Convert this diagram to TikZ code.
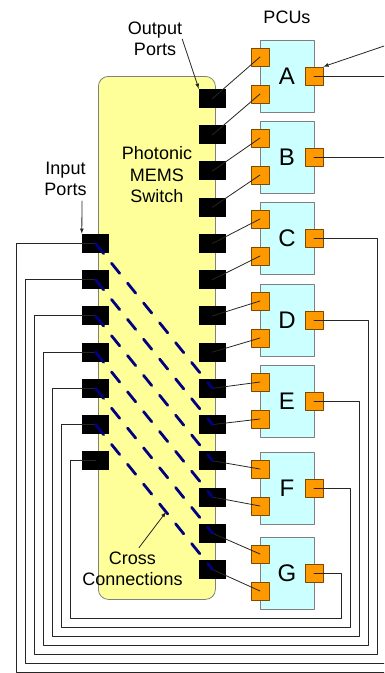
\documentclass[tikz,border=0pt]{standalone}
\usepackage{fontspec}
\setmainfont{Liberation Sans}
\definecolor{swfill}{HTML}{FFFF99}
\definecolor{pcufill}{HTML}{CCFFFF}
\definecolor{portfill}{HTML}{FF9900}
\definecolor{portedge}{HTML}{7A4A00}
\definecolor{boxedge}{HTML}{7F7F7F}
\definecolor{xconn}{HTML}{000080}
\tikzset{
  blk/.style={draw=none,fill=black,minimum width=27pt,minimum height=19pt,inner sep=0pt},
  opt/.style={draw=portedge,fill=portfill,line width=0.7pt,minimum size=18pt,inner sep=0pt},
  pcu/.style={draw=boxedge,fill=pcufill,line width=0.8pt,minimum width=54pt,minimum height=72pt,inner sep=0pt,font=\fontsize{24}{24}\selectfont},
  lbl/.style={align=center,inner sep=0pt,font=\fontsize{18}{21.5}\selectfont},
  wire/.style={line width=0.8pt,black!85},
  xwire/.style={xconn,line width=2.8pt,dash pattern=on 13pt off 12.5pt},
}
\begin{document}
\begin{tikzpicture}[x=1pt,y=-1pt,line cap=round,line join=round,>=latex]
  \useasboundingbox (0,0) rectangle (384,673);
  \clip (0,0) rectangle (384,673);
  \node[draw=boxedge,fill=swfill,rounded corners=10pt,line width=0.8pt,minimum width=117pt,minimum height=523pt,anchor=north west] (sw) at (98,76) {};
  \foreach \r in {1,...,14}
    \node[blk] (o\r) at (212.5,{98.5+36.23*(\r-1)}) {};
  \foreach \n in {1,...,7}
    \node[blk] (i\n) at (95.5,{98.5+36.23*(\n+3)}) {};
  \foreach \p/\t [count=\k] in {A/40,B/121,C/202,D/284,E/365,F/452,G/537} {
    \pgfmathtruncatemacro\ra{2*\k-1}
    \pgfmathtruncatemacro\rb{2*\k}
    \node[pcu,anchor=north] (pcu\p) at (287,\t) {\p};
    \node[opt] (in\p1) at (260,{\t+17}) {};
    \node[opt] (in\p2) at (260,{\t+54}) {};
    \node[opt] (out\p) at (314,{\t+36}) {};
    \draw[wire] (o\ra.center) -- (in\p1.center);
    \draw[wire] (o\rb.center) -- (in\p2.center);
    \draw[wire] (out\p.center) -- ({404-9*\k},{\t+36}) |- ({7+9*\k},{681-9*\k}) |- (i\k.center);
  }
  \foreach \n in {1,...,6} {
    \pgfmathtruncatemacro\m{\n+8}
    \draw[xwire] (i\n.center) -- (o\m.center);
  }
  \node[lbl] (pcus) at (287,17.5) {PCUs};
  \node[lbl] (outlbl) at (155,39) {Output\\Ports};
  \node[lbl] (swlbl) at (157,175) {Photonic\\MEMS\\Switch};
  \node[lbl] (inlbl) at (65.5,179) {Input\\Ports};
  \node[lbl] (xlbl) at (132.5,569) {Cross\\Connections};
  \coordinate (inarr) at (82,201);
  \coordinate (xtip) at (166,512);
  \coordinate (extin) at (390,44);
  \draw[wire,->] (outlbl.east) -- (o1.north west);
  \draw[wire,->] (inarr) -- (i1.north west);
  \draw[wire,->] ([xshift=6.5pt,yshift=4pt]xlbl.north) -- (xtip);
  \draw[wire,->] (extin) -- (outA.north east);
\end{tikzpicture}
\end{document}
